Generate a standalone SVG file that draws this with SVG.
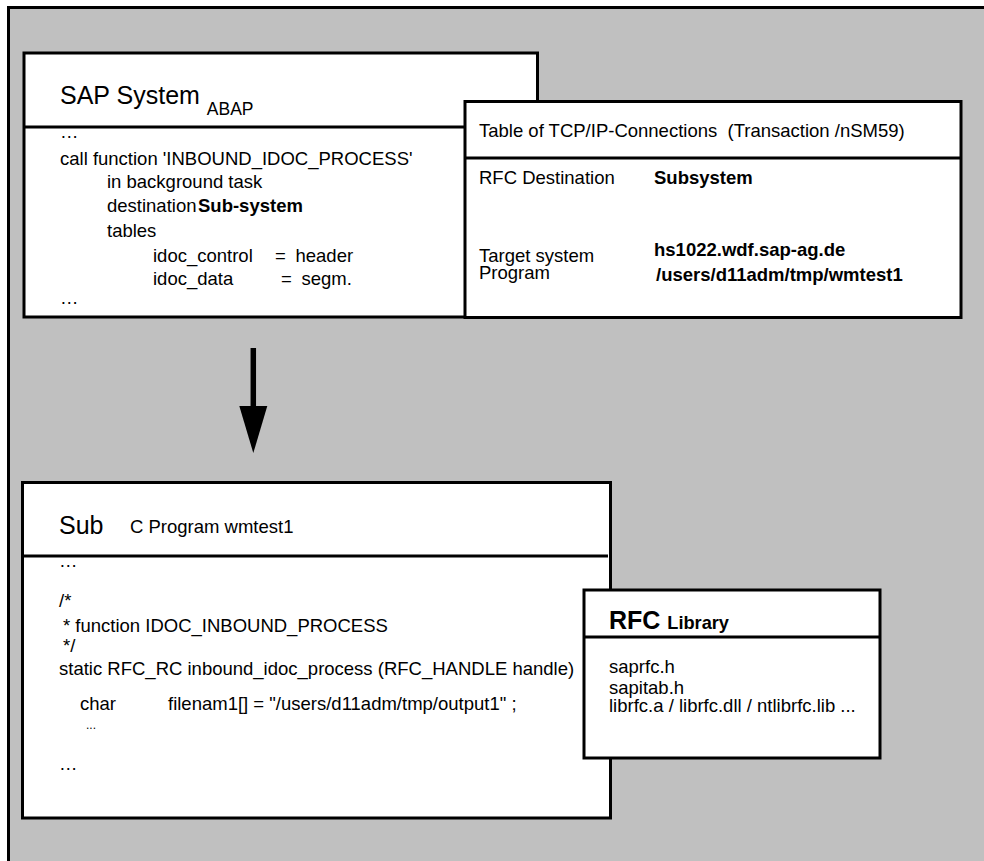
<svg xmlns="http://www.w3.org/2000/svg" width="984" height="861" viewBox="0 0 984 861">
  <style>
    .box { fill: #ffffff; stroke: #000000; stroke-width: 3; }
    .sep { stroke: #000000; stroke-width: 3; fill: none; }
    text { font-family: "Liberation Sans", Arial, sans-serif; fill: #000000; }
    .t { font-size: 18.5px; }
    .big { font-size: 25px; }
    .b { font-weight: bold; }
  </style>

  <rect width="984" height="861" fill="#ffffff"/>
  <!-- outer frame (continues past the right and bottom edges) -->
  <rect x="8.5" y="7.5" width="1000" height="900" fill="#c0c0c0" stroke="#000000" stroke-width="3"/>

  <!-- SAP system (ABAP) -->
  <g id="sap-system">
    <rect class="box" x="24" y="53" width="513.5" height="264"/>
    <line class="sep" x1="24" y1="127" x2="466" y2="127"/>
    <text class="big" x="60" y="104">SAP System <tspan font-size="17.5" dy="11">ABAP</tspan></text>
    <text class="t" x="60" y="138">…</text>
    <text class="t" x="60" y="165">call function 'INBOUND_IDOC_PROCESS'</text>
    <text class="t" x="107" y="188">in background task</text>
    <text class="t" x="107" y="212">destination<tspan class="b" x="198">Sub-system</tspan></text>
    <text class="t" x="107" y="237">tables</text>
    <text class="t" x="153" y="262">idoc_control<tspan x="275">=</tspan><tspan x="295.5">header</tspan></text>
    <text class="t" x="153" y="284.5">idoc_data<tspan x="281">=</tspan><tspan x="301.5">segm.</tspan></text>
    <text class="t" x="60" y="304">…</text>
  </g>

  <!-- TCP/IP connection table -->
  <g id="tcp-table">
    <rect class="box" x="465" y="101.5" width="496" height="216"/>
    <line class="sep" x1="465" y1="158" x2="961" y2="158"/>
    <text class="t" x="479" y="137" xml:space="preserve">Table of TCP/IP-Connections  (Transaction /nSM59)</text>
    <text class="t" x="479" y="183.5">RFC Destination</text>
    <text class="t b" x="654" y="183.5">Subsystem</text>
    <text class="t" x="479" y="262">Target system</text>
    <text class="t" x="479" y="279">Program</text>
    <text class="t b" x="654" y="256">hs1022.wdf.sap-ag.de</text>
    <text class="t b" x="656" y="281">/users/d11adm/tmp/wmtest1</text>
  </g>

  <!-- connectors -->
  <g id="connectors">
    <line x1="253.3" y1="348" x2="253.3" y2="408" stroke="#000000" stroke-width="5.5"/>
    <polygon points="239.3,406 267.3,406 253.3,453" fill="#000000"/>
  </g>

  <!-- Subsystem C program -->
  <g id="sub-program">
    <rect class="box" x="22.5" y="482.5" width="588" height="335.5"/>
    <line class="sep" x1="22.5" y1="556" x2="608" y2="556"/>
    <text class="big" x="59" y="534">Sub</text>
    <text class="t" x="130" y="533">C Program wmtest1</text>
    <text class="t" x="59" y="567">…</text>
    <text class="t" x="59" y="607">/*</text>
    <text class="t" x="63" y="632" xml:space="preserve">* function IDOC_INBOUND_PROCESS</text>
    <text class="t" x="63" y="652">*/</text>
    <text class="t" x="59" y="674.5">static RFC_RC inbound_idoc_process (RFC_HANDLE handle)</text>
    <text class="t" x="80" y="709.5">char<tspan x="168">filenam1[] = "/users/d11adm/tmp/output1" ;</tspan></text>
    <text x="86" y="729" font-size="12">...</text>
    <text class="t" x="59" y="770">…</text>
  </g>

  <!-- RFC library -->
  <g id="rfc-library">
    <rect class="box" x="584" y="590" width="296" height="168"/>
    <line class="sep" x1="584" y1="637" x2="880" y2="637"/>
    <text class="b" x="609" y="628.5" font-size="25">RFC <tspan font-size="18.2">Library</tspan></text>
    <text class="t" x="609" y="673">saprfc.h</text>
    <text class="t" x="609" y="693.5">sapitab.h</text>
    <text class="t" x="609" y="712">librfc.a / librfc.dll / ntlibrfc.lib ...</text>
  </g>
</svg>
